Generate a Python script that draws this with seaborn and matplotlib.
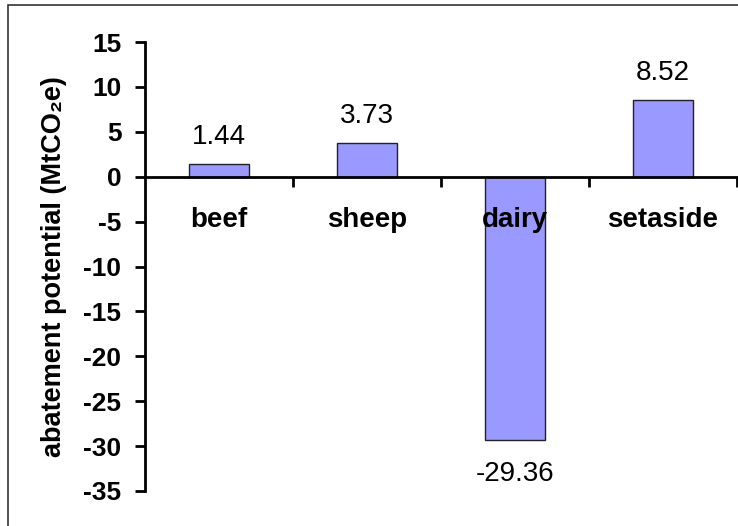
import matplotlib
matplotlib.use("Agg")
import matplotlib.pyplot as plt
import seaborn as sns
from matplotlib.patches import Rectangle

# data
categories = ["beef", "sheep", "dairy", "setaside"]
values = [1.44, 3.73, -29.36, 8.52]
value_labels = ["1.44", "3.73", "-29.36", "8.52"]
yticks = [15, 10, 5, 0, -5, -10, -15, -20, -25, -30, -35]

sns.set_style("white")
plt.rcParams["font.family"] = ["Liberation Sans", "DejaVu Sans"]
plt.rcParams["text.color"] = "black"
plt.rcParams["axes.labelcolor"] = "black"
plt.rcParams["xtick.color"] = "black"
plt.rcParams["ytick.color"] = "black"

fig = plt.figure(figsize=(7.38, 5.26), dpi=100)
ax = fig.add_axes([145 / 738, 1 - 491 / 526, 592 / 738, 449 / 526])

sns.barplot(x=categories, y=values, color="#9999ff", saturation=1,
            width=0.4, edgecolor="#222222", linewidth=1, ax=ax)
ax.set_axisbelow(False)

ax.set_xlim(-0.5, 3.5)
ax.set_ylim(-35, 15)
ax.set_yticks(yticks)
ax.set_yticklabels([str(t) for t in yticks], fontsize=19, fontweight="bold")

# x axis sits on zero, ticks between categories
ax.spines["bottom"].set_position(("data", 0))
ax.spines["bottom"].set_linewidth(2)
ax.spines["bottom"].set_color("black")
ax.spines["left"].set_linewidth(2)
ax.spines["left"].set_color("black")
ax.spines["top"].set_visible(False)
ax.spines["right"].set_visible(False)
ax.set_xticks([0.5, 1.5, 2.5, 3.5])
ax.set_xticklabels([])
ax.set_xticks([0, 1, 2, 3], minor=True)
ax.set_xticklabels(categories, minor=True, fontsize=20, fontweight="bold")
ax.tick_params(axis="x", which="major", direction="out", length=7, width=2, bottom=True)
ax.tick_params(axis="x", which="minor", length=0, pad=22)
ax.tick_params(axis="y", direction="out", length=7, width=2, left=True, pad=10)
ax.set_xlabel("")

ax.set_ylabel("abatement potential (MtCO₂e)", fontsize=19.5, fontweight="bold", labelpad=12)

for i, (v, lab) in enumerate(zip(values, value_labels)):
    off = 10 if v >= 0 else -15
    ax.annotate(lab, (i, v), xytext=(0, off), textcoords="offset points",
                ha="center", va="bottom" if v >= 0 else "top", fontsize=20)

# outer chart frame
fig.patches.append(Rectangle((8 / 738, -0.05), 1.1, 1 - 5 / 526 + 0.05,
                             transform=fig.transFigure, fill=False,
                             edgecolor="#333333", linewidth=1.2))

fig.savefig("out.png", dpi=100)
